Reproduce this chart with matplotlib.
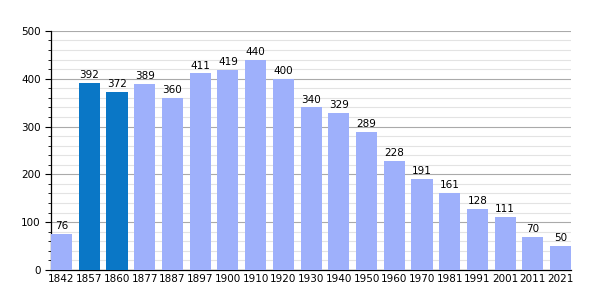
import numpy as np
import matplotlib.pyplot as plt

# Population by census year
years = ["1842", "1857", "1860", "1877", "1887", "1897", "1900", "1910", "1920", "1930",
         "1940", "1950", "1960", "1970", "1981", "1991", "2001", "2011", "2021"]
population = [76, 392, 372, 389, 360, 411, 419, 440, 400, 340,
              329, 289, 228, 191, 161, 128, 111, 70, 50]
highlight = ["1857", "1860"]

light = "#9eb0fb"
dark = "#0a77c6"
colors = [dark if y in highlight else light for y in years]

fig = plt.figure(figsize=(6, 3), dpi=100)
ax = fig.add_axes([0.085, 0.1, 0.867, 0.797])

x = np.arange(len(years))
w = 0.76
ax.bar(x, population, width=w, color=colors, zorder=3)
for xi, v in zip(x, population):
    ax.text(xi, v + 6, str(v), ha="center", va="bottom", fontsize=7.5, zorder=4)

ax.set_xlim(-w / 2, len(years) - 1 + w / 2)
ax.set_ylim(0, 500)
ax.set_xticks(x)
ax.set_xticklabels(years, fontsize=7.5)
ax.set_yticks(range(0, 501, 100))
ax.set_yticks(range(0, 501, 20), minor=True)
ax.tick_params(axis="y", labelsize=7.5, length=4)
ax.tick_params(axis="y", which="minor", length=2)
ax.tick_params(axis="x", length=0, pad=3)

ax.grid(axis="y", which="major", color="#aaaaaa", linewidth=0.8, zorder=0)
ax.grid(axis="y", which="minor", color="#e3e3e3", linewidth=0.8, zorder=0)

for s in ["top", "right"]:
    ax.spines[s].set_visible(False)
ax.spines["left"].set_linewidth(0.9)
ax.spines["bottom"].set_linewidth(0.9)

fig.savefig("out.png", dpi=100)
